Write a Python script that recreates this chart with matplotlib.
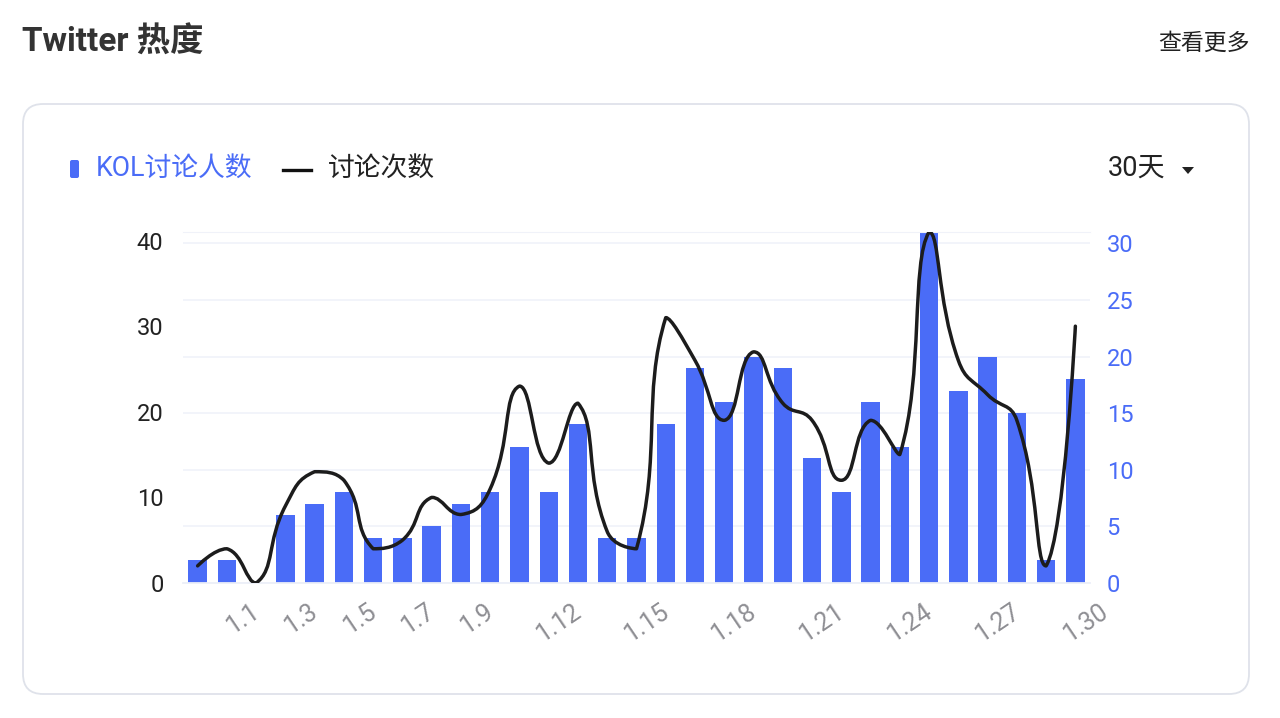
import numpy as np
import matplotlib
matplotlib.use("Agg")
import matplotlib.pyplot as plt
from matplotlib.path import Path
from matplotlib.patches import PathPatch, FancyBboxPatch, Polygon
from matplotlib.lines import Line2D
from matplotlib.transforms import IdentityTransform, offset_copy

plt.rcParams['font.family'] = ['Roboto', 'Noto Sans CJK SC', 'DejaVu Sans']

# data
kol_users = [2, 2, 0, 6, 7, 8, 4, 4, 5, 7, 8, 12, 8, 14, 4, 4, 14, 19, 16, 20,
             19, 11, 8, 16, 12, 31, 17, 20, 15, 2, 18]
mentions = [2, 4, 0, 9, 13, 12, 4, 5, 10, 8, 11, 23, 14, 21, 6, 4, 31, 26, 19, 27,
            21, 19, 12, 19, 15, 41, 26, 22, 19, 2, 30]
x_labels = ['1.1', '1.3', '1.5', '1.7', '1.9', '1.12', '1.15', '1.18', '1.21',
            '1.24', '1.27', '1.30']
x_label_pos = [2, 4, 6, 8, 10, 13, 16, 19, 22, 25, 28, 31]
left_ticks = [0, 10, 20, 30, 40]
right_ticks = [0, 5, 10, 15, 20, 25, 30]

BLUE = '#4a6cf7'
W, H = 1280, 718


def fx(px):
    return px / W


def fy(py):
    return 1 - py / H


def smooth_path(xs, ys, sx, sy, smooth=0.5):
    # echarts-like smoothing, computed in pixel space
    P = np.column_stack([np.asarray(xs, float) * sx, np.asarray(ys, float) * sy])
    n = len(P)
    cin = [P[i] for i in range(n)]
    cout = [P[i] for i in range(n)]
    for i in range(1, n - 1):
        prev, cur, nxt = P[i - 1], P[i], P[i + 1]
        v = nxt - prev
        l0 = np.hypot(*(cur - prev))
        l1 = np.hypot(*(nxt - cur))
        r = l1 / (l0 + l1) if l0 + l1 else 0.5
        a = cur - v * smooth * (1 - r)
        b = cur + v * smooth * r
        cin[i] = np.clip(a, np.minimum(prev, cur), np.maximum(prev, cur))
        cout[i] = np.clip(b, np.minimum(cur, nxt), np.maximum(cur, nxt))
    verts = [P[0]]
    codes = [Path.MOVETO]
    for i in range(n - 1):
        verts += [cout[i], cin[i + 1], P[i + 1]]
        codes += [Path.CURVE4] * 3
    verts = np.array(verts) / [sx, sy]
    return Path(verts, codes)


fig = plt.figure(figsize=(12.8, 7.18), dpi=100)
fig.patch.set_facecolor('white')

# card
card = FancyBboxPatch((23, H - 694), 1226, 590,
                      boxstyle='round,pad=0,rounding_size=20',
                      transform=IdentityTransform(), facecolor='white',
                      edgecolor='#dfe2ea', linewidth=1.3, zorder=0)
fig.add_artist(card)

left, right, top, bottom = 183, 1090, 232, 583
ax = fig.add_axes([fx(left), fy(bottom), fx(right - left), (bottom - top) / H])
ax.set_facecolor('none')
ax2 = ax.twinx()

x = np.arange(len(kol_users))
ax.bar(x, kol_users, width=0.63, color=BLUE, zorder=2)
ax.set_xlim(-0.5, len(kol_users) - 0.5)
ax.set_ylim(0, max(kol_users))
ax.set_yticks(right_ticks)
ax.yaxis.tick_right()
ax.tick_params(axis='y', length=0, pad=12, labelsize=17, labelcolor=BLUE)
ax.grid(axis='y', color='#f0f2f9', linewidth=1.2, zorder=0)
ax.set_xticks([])
for s in ['left', 'right']:
    ax.spines[s].set_visible(False)
ax.spines['top'].set_color('#f0f2f9')
ax.spines['bottom'].set_color('#eceff8')
ax.spines['bottom'].set_linewidth(1.3)

lab_tr = offset_copy(ax.get_xaxis_transform(), fig=fig, x=-4, y=0, units='points')
for pos, lab in zip(x_label_pos, x_labels):
    ax.text(pos, -0.045, lab, transform=lab_tr, rotation=34,
            rotation_mode='anchor', ha='right', va='top', fontsize=18,
            color='#8e8e93', clip_on=False)

ax2.set_ylim(0, max(mentions))
ax2.set_yticks(left_ticks)
ax2.yaxis.tick_left()
ax2.tick_params(axis='y', length=0, pad=14, labelsize=17, labelcolor='#222222')
for s in ax2.spines.values():
    s.set_visible(False)
sx = (right - left) / len(kol_users)
sy = (bottom - top) / max(mentions)
path = smooth_path(x, mentions, sx, sy)
ax2.add_patch(PathPatch(path, facecolor='none', edgecolor='#1c1c1c',
                        linewidth=2.5, capstyle='round', joinstyle='round', zorder=3))

# header and legend
fig.text(fx(22), fy(43), 'Twitter 热度', fontsize=24, fontweight='bold',
         color='#333333', ha='left', va='center')
fig.text(fx(1250), fy(43), '查看更多', fontsize=16.5, color='#222222',
         ha='right', va='center')

marker = FancyBboxPatch((70, H - 178), 9, 18, boxstyle='round,pad=0,rounding_size=2',
                        transform=IdentityTransform(), facecolor=BLUE, edgecolor='none')
fig.add_artist(marker)
fig.text(fx(96), fy(168), 'KOL讨论人数', fontsize=19.3, color=BLUE, ha='left', va='center')
fig.add_artist(Line2D([fx(283), fx(311)], [fy(170), fy(170)], color='#111111',
                      linewidth=2.4, transform=fig.transFigure))
fig.text(fx(328), fy(168), '讨论次数', fontsize=19.3, color='#222222', ha='left', va='center')
fig.text(fx(1108), fy(168), '30天', fontsize=19.5, color='#222222', ha='left', va='center')
fig.add_artist(Polygon([[1182, H - 167], [1194, H - 167], [1188, H - 174]],
                       closed=True, transform=IdentityTransform(),
                       facecolor='#222222', edgecolor='none'))

fig.savefig('out.png', dpi=100)
